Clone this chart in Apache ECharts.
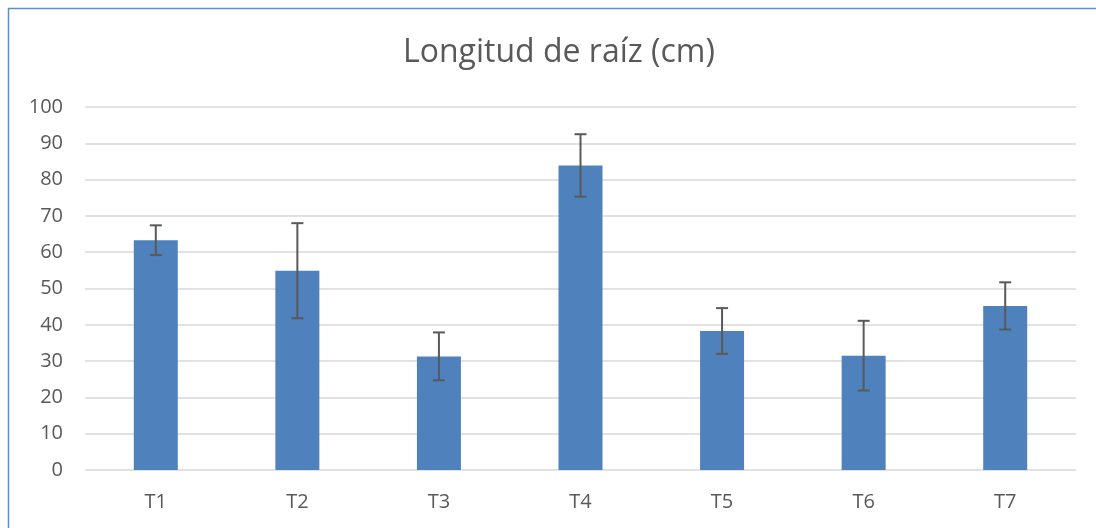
<!DOCTYPE html>
<html>
<head>
<meta charset="utf-8">
<script src="https://cdn.jsdelivr.net/npm/echarts@6/dist/echarts.min.js"></script>
<style>
  html, body { margin: 0; padding: 0; background: #fff; }
  #main { width: 1096px; height: 528px; }
</style>
</head>
<body>
<div id="main"></div>
<script>
// Datos
let categories = ["T1", "T2", "T3", "T4", "T5", "T6", "T7"];
let values = [63.3, 54.9, 31.3, 83.9, 38.3, 31.5, 45.2];
let errors = [4.1, 13.1, 6.6, 8.6, 6.3, 9.6, 6.5];
let yTicks = [0, 10, 20, 30, 40, 50, 60, 70, 80, 90, 100];

let colors = {
  bar: "#4F81BD",
  text: "#595959",
  grid: "#D9D9D9",
  frame: "#5B8BD0",
};

// Datos para las barras de error: [categoria, minimo, maximo]
let errorData = values.map((v, i) => [i, v - errors[i], v + errors[i]]);

let myChart = echarts.init(document.getElementById("main"));

let option = {
  animation: false,
  textStyle: { fontFamily: "Open Sans" },
  title: {
    text: "Longitud de raíz (cm)",
    left: 398,
    top: 32,
    textStyle: {
      fontFamily: "Open Sans",
      fontWeight: "normal",
      fontSize: 32,
      color: colors.text,
    },
  },
  grid: { left: 85, right: 20, top: 107, bottom: 58 },
  xAxis: {
    type: "category",
    data: categories,
    axisTick: { show: false },
    axisLine: { show: false },
    axisLabel: { color: colors.text, fontSize: 20, margin: 22 },
  },
  yAxis: {
    type: "value",
    min: yTicks[0],
    max: yTicks[yTicks.length - 1],
    interval: 10,
    axisTick: { show: false },
    axisLine: { show: false },
    axisLabel: { color: colors.text, fontSize: 20, margin: 22 },
    splitLine: { lineStyle: { color: colors.grid, width: 1.5 } },
  },
  series: [
    {
      type: "bar",
      data: values,
      barWidth: 44,
      itemStyle: { color: colors.bar },
    },
    {
      type: "custom",
      data: errorData,
      z: 10,
      renderItem: function (params, api) {
        let x = api.value(0);
        let low = api.coord([x, api.value(1)]);
        let high = api.coord([x, api.value(2)]);
        let half = 6;
        let style = { stroke: colors.text, lineWidth: 2 };
        return {
          type: "group",
          children: [
            { type: "line", shape: { x1: high[0], y1: high[1], x2: low[0], y2: low[1] }, style: style },
            { type: "line", shape: { x1: high[0] - half, y1: high[1], x2: high[0] + half, y2: high[1] }, style: style },
            { type: "line", shape: { x1: low[0] - half, y1: low[1], x2: low[0] + half, y2: low[1] }, style: style },
          ],
        };
      },
    },
  ],
  graphic: [
    {
      type: "rect",
      shape: { x: 8.5, y: 8.5, width: 1200, height: 700 },
      style: { fill: "none", stroke: colors.frame, lineWidth: 1.5 },
      silent: true,
    },
  ],
};

myChart.setOption(option);
window.addEventListener("resize", function () {
  myChart.resize();
});
</script>
</body>
</html>
